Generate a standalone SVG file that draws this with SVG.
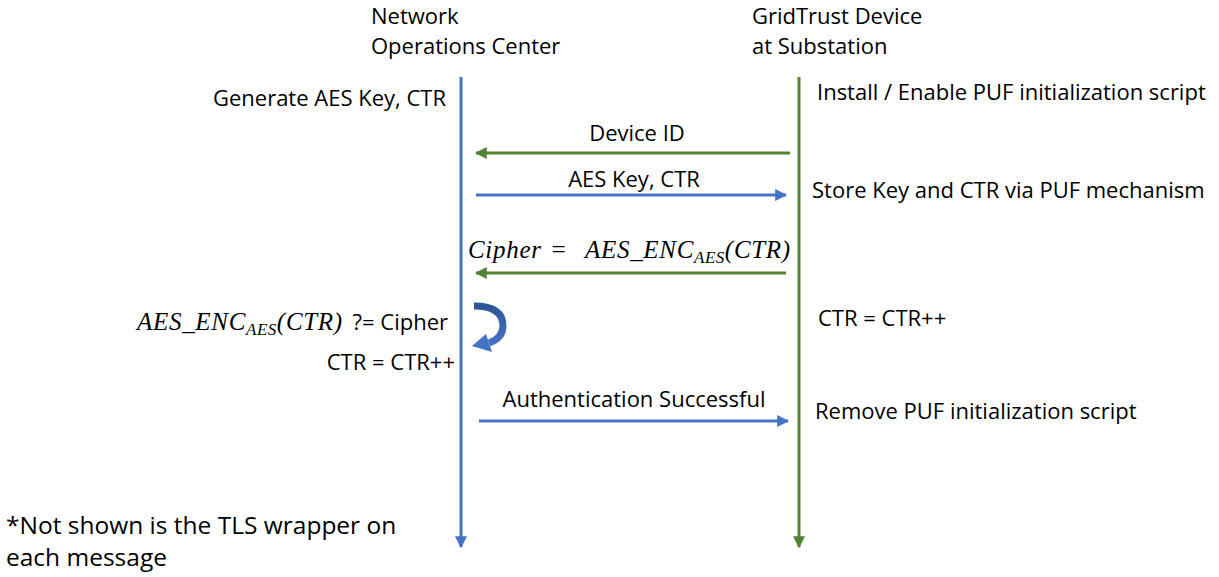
<svg xmlns="http://www.w3.org/2000/svg" width="1219" height="577" viewBox="0 0 1219 577">
  <style>
    .t { font-family: "Open Sans", "Liberation Sans", sans-serif; font-size: 22px; fill: #000; }
    .big { font-size: 24.5px; }
    .m { font-family: "Liberation Serif", "DejaVu Serif", serif; font-style: italic; font-size: 25px; letter-spacing: 0.7px; fill: #000; }
    .ms { font-family: "Liberation Serif", "DejaVu Serif", serif; font-style: italic; font-size: 17px; letter-spacing: 0.5px; fill: #000; }
    .blue { stroke: #4472C4; stroke-width: 3; fill: none; }
    .green { stroke: #548235; stroke-width: 3; fill: none; }
  </style>
  <defs>
    <marker id="ab" viewBox="0 0 10 10" refX="9" refY="5" markerWidth="4" markerHeight="4" orient="auto" markerUnits="strokeWidth">
      <path d="M0,0 L10,5 L0,10 z" fill="#4472C4"/>
    </marker>
    <marker id="ag" viewBox="0 0 10 10" refX="9" refY="5" markerWidth="4" markerHeight="4" orient="auto" markerUnits="strokeWidth">
      <path d="M0,0 L10,5 L0,10 z" fill="#548235"/>
    </marker>
    <linearGradient id="cg" x1="0" y1="0" x2="0" y2="1">
      <stop offset="0" stop-color="#2F5597"/>
      <stop offset="1" stop-color="#4472C4"/>
    </linearGradient>
  </defs>

  <!-- participant: network operations center -->
  <g id="noc">
    <text class="t" x="371" y="24">Network</text>
    <text class="t" x="371" y="54">Operations Center</text>
    <text class="t" x="446" y="106" text-anchor="end">Generate AES Key, CTR</text>
    <text x="137" y="330"><tspan class="m">AES_ENC</tspan><tspan class="ms" dy="5">AES</tspan><tspan class="m" dy="-5">(CTR)</tspan></text>
    <text class="t" x="448" y="330" text-anchor="end">?= Cipher</text>
    <text class="t" x="455" y="370" text-anchor="end">CTR = CTR++</text>
  </g>

  <!-- participant: device at substation -->
  <g id="device">
    <text class="t" x="752" y="24">GridTrust Device</text>
    <text class="t" x="752" y="54">at Substation</text>
    <text class="t" x="817" y="100">Install / Enable PUF initialization script</text>
    <text class="t" x="812" y="198">Store Key and CTR via PUF mechanism</text>
    <text class="t" x="818" y="326">CTR = CTR++</text>
    <text class="t" x="815" y="419">Remove PUF initialization script</text>
  </g>

  <!-- local verification loop -->
  <g id="self-check">
    <path d="M474,306 Q503,306 503,326 Q503,338 489,343" fill="none" stroke="url(#cg)" stroke-width="7"/>
    <path d="M472,346 L486,334 L492,352 z" fill="#4472C4"/>
  </g>

  <!-- footnote -->
  <g id="note">
    <text class="t big" x="6" y="534">*Not shown is the TLS wrapper on</text>
    <text class="t big" x="6" y="566">each message</text>
  </g>

  <!-- lifelines and messages -->
  <g id="connectors">
    <line class="blue" x1="461" y1="77" x2="461" y2="547" marker-end="url(#ab)"/>
    <line class="green" x1="799" y1="77" x2="799" y2="547" marker-end="url(#ag)"/>

    <line class="green" x1="790" y1="153" x2="476" y2="153" marker-end="url(#ag)"/>
    <text class="t" x="637" y="141" text-anchor="middle">Device ID</text>

    <line class="blue" x1="476" y1="195" x2="786" y2="195" marker-end="url(#ab)"/>
    <text class="t" x="634" y="187" text-anchor="middle">AES Key, CTR</text>

    <line class="green" x1="786" y1="273" x2="476" y2="273" marker-end="url(#ag)"/>
    <text x="468" y="258"><tspan class="m">Cipher</tspan><tspan class="m" x="550">=</tspan><tspan class="m" x="585">AES_ENC</tspan><tspan class="ms" dy="5">AES</tspan><tspan class="m" dy="-5">(CTR)</tspan></text>

    <line class="blue" x1="479" y1="421" x2="788" y2="421" marker-end="url(#ab)"/>
    <text class="t" x="634" y="407" text-anchor="middle">Authentication Successful</text>
  </g>
</svg>
